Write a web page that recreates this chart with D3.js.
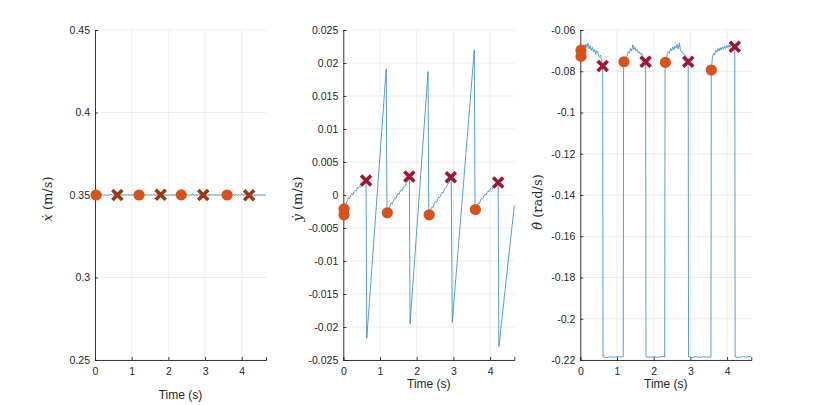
<!DOCTYPE html>
<html><head><meta charset="utf-8">
<script src="https://cdn.jsdelivr.net/npm/d3@7"></script>
<style>body{margin:0;background:#fff}svg{display:block}</style>
</head><body><svg id="c" width="830" height="405"></svg>
<script>
// ---------- DATA ----------
const xTicks = [0, 1, 2, 3, 4];
const xdotTicks = [0.25, 0.3, 0.35, 0.4, 0.45];
const ydotTicks = [-0.025,-0.02,-0.015,-0.01,-0.005,0,0.005,0.01,0.015,0.02,0.025];
const thdotTicks = [-0.22,-0.2,-0.18,-0.16,-0.14,-0.12,-0.1,-0.08,-0.06];

// x-dot line [t, value]
const xdotLine = [
 [0.00,0.3500],[0.04,0.3502],[0.08,0.3497],[0.12,0.3504],[0.16,0.3499],[0.20,0.3505],[0.24,0.3498],
 [0.28,0.3503],[0.32,0.3496],[0.36,0.3502],[0.40,0.3499],[0.44,0.3505],[0.48,0.3498],[0.52,0.3503],
 [0.56,0.3497],[0.61,0.3500],[1.20,0.3500],
 [1.24,0.3498],[1.28,0.3503],[1.32,0.3496],[1.36,0.3502],[1.40,0.3499],[1.44,0.3504],[1.48,0.3497],
 [1.52,0.3503],[1.56,0.3498],[1.60,0.3505],[1.64,0.3497],[1.68,0.3502],[1.72,0.3499],[1.79,0.3500],
 [2.35,0.3500],[2.39,0.3497],[2.43,0.3503],[2.47,0.3498],[2.51,0.3504],[2.55,0.3496],[2.59,0.3502],
 [2.63,0.3499],[2.67,0.3505],[2.71,0.3497],[2.75,0.3503],[2.79,0.3498],[2.83,0.3502],[2.88,0.3497],[2.95,0.3500],
 [3.60,0.3500],[3.64,0.3498],[3.68,0.3503],[3.72,0.3497],[3.76,0.3502],[3.80,0.3499],[3.84,0.3505],
 [3.88,0.3497],[3.92,0.3503],[3.96,0.3498],[4.00,0.3504],[4.04,0.3497],[4.08,0.3502],[4.14,0.3499],
 [4.20,0.3500],[4.66,0.3500]
];
const xdotStart = [[0.03,0.3500],[1.20,0.3500],[2.35,0.3501],[3.60,0.3500]];
const xdotEnd = [[0.61,0.3500],[1.79,0.3501],[2.95,0.3500],[4.20,0.3499]];

// y-dot line
const ydotLine = [
 [0.00,-0.0030],[0.02,-0.0021],[0.05,-0.0016],[0.08,-0.0012],[0.11,-0.0009],[0.14,-0.0004],[0.17,-0.0006],
 [0.20,-0.0001],[0.23,0.0002],[0.26,0.0000],[0.29,0.0005],[0.32,0.0007],[0.35,0.0006],[0.38,0.0011],
 [0.41,0.0010],[0.44,0.0013],[0.47,0.0012],[0.50,0.0016],[0.53,0.0018],[0.56,0.0017],[0.59,0.0020],
 [0.62,0.0022],[0.64,-0.0217],[1.17,0.0191],[1.19,-0.0027],
 [1.22,-0.0022],[1.25,-0.0019],[1.28,-0.0016],[1.31,-0.0012],[1.34,-0.0013],[1.37,-0.0008],[1.40,-0.0005],
 [1.43,-0.0006],[1.46,-0.0001],[1.49,0.0002],[1.52,0.0001],[1.55,0.0006],[1.58,0.0008],[1.61,0.0007],
 [1.64,0.0012],[1.67,0.0014],[1.70,0.0015],[1.73,0.0019],[1.76,0.0021],[1.80,0.0028],[1.82,-0.0195],
 [2.31,0.0187],[2.33,-0.0030],
 [2.36,-0.0025],[2.39,-0.0021],[2.42,-0.0018],[2.45,-0.0019],[2.48,-0.0013],[2.51,-0.0010],[2.54,-0.0011],
 [2.57,-0.0006],[2.60,-0.0003],[2.63,-0.0004],[2.66,0.0001],[2.69,0.0004],[2.72,0.0003],[2.75,0.0008],
 [2.78,0.0011],[2.81,0.0012],[2.84,0.0016],[2.87,0.0019],[2.90,0.0021],[2.94,0.0027],[2.97,-0.0193],
 [3.57,0.0220],[3.59,-0.0022],
 [3.62,-0.0018],[3.65,-0.0015],[3.68,-0.0012],[3.71,-0.0013],[3.74,-0.0008],[3.77,-0.0005],[3.80,-0.0006],
 [3.83,-0.0002],[3.86,0.0001],[3.89,0.0000],[3.92,0.0004],[3.95,0.0006],[3.98,0.0005],[4.01,0.0009],
 [4.04,0.0011],[4.07,0.0010],[4.10,0.0013],[4.13,0.0015],[4.16,0.0016],[4.22,0.0019],[4.24,-0.0230],
 [4.66,-0.0016]
];
const ydotStart = [[0.02,-0.0021],[0.02,-0.0030],[1.20,-0.0027],[2.34,-0.0030],[3.60,-0.0022]];
const ydotEnd = [[0.62,0.0022],[1.80,0.0028],[2.93,0.0027],[4.22,0.0019]];

// theta-dot line
const thdotLine = [
 [0.00,-0.0728],[0.02,-0.0700],[0.05,-0.0688],[0.08,-0.0702],[0.10,-0.0672],[0.13,-0.0690],[0.15,-0.0668],
 [0.18,-0.0685],[0.21,-0.0664],[0.24,-0.0692],[0.27,-0.0676],[0.30,-0.0698],[0.33,-0.0684],[0.36,-0.0706],
 [0.39,-0.0694],[0.42,-0.0718],[0.45,-0.0700],[0.48,-0.0712],[0.51,-0.0730],[0.55,-0.0722],[0.58,-0.0745],
 [0.61,-0.0775],[0.62,-0.2185],[0.72,-0.2188],[0.82,-0.2184],[0.92,-0.2187],[1.02,-0.2183],[1.10,-0.2186],
 [1.17,-0.2184],[1.18,-0.0760],
 [1.22,-0.0748],[1.25,-0.0730],[1.28,-0.0722],[1.31,-0.0705],[1.34,-0.0712],[1.37,-0.0690],[1.40,-0.0702],
 [1.43,-0.0672],[1.46,-0.0695],[1.49,-0.0684],[1.52,-0.0700],[1.55,-0.0694],[1.58,-0.0710],[1.61,-0.0705],
 [1.64,-0.0718],[1.67,-0.0712],[1.70,-0.0728],[1.74,-0.0735],[1.78,-0.0754],[1.79,-0.2185],[1.90,-0.2187],
 [2.00,-0.2184],[2.10,-0.2187],[2.20,-0.2183],[2.30,-0.2186],[2.31,-0.0760],
 [2.34,-0.0742],[2.37,-0.0718],[2.40,-0.0705],[2.43,-0.0712],[2.46,-0.0690],[2.49,-0.0700],[2.52,-0.0682],
 [2.55,-0.0696],[2.58,-0.0678],[2.61,-0.0688],[2.64,-0.0670],[2.67,-0.0692],[2.70,-0.0664],[2.73,-0.0698],
 [2.76,-0.0704],[2.79,-0.0712],[2.82,-0.0718],[2.86,-0.0726],[2.90,-0.0735],[2.94,-0.0754],[2.95,-0.2185],
 [3.05,-0.2188],[3.15,-0.2184],[3.25,-0.2187],[3.35,-0.2184],[3.45,-0.2186],[3.56,-0.2185],[3.57,-0.0792],
 [3.60,-0.0735],[3.63,-0.0712],[3.66,-0.0720],[3.69,-0.0698],[3.72,-0.0708],[3.75,-0.0690],[3.78,-0.0702],
 [3.81,-0.0686],[3.84,-0.0697],[3.87,-0.0682],[3.90,-0.0694],[3.93,-0.0678],[3.96,-0.0690],[3.99,-0.0675],
 [4.02,-0.0686],[4.05,-0.0672],[4.08,-0.0684],[4.11,-0.0670],[4.14,-0.0678],[4.18,-0.0672],[4.21,-0.0681],
 [4.22,-0.2185],[4.32,-0.2187],[4.42,-0.2184],[4.52,-0.2186],[4.60,-0.2183],[4.66,-0.2185]
];
const thdotStart = [[0.02,-0.0698],[0.02,-0.0728],[1.19,-0.0754],[2.32,-0.0757],[3.57,-0.0794]];
const thdotEnd = [[0.61,-0.0775],[1.78,-0.0754],[2.94,-0.0754],[4.21,-0.0681]];

// ---------- DRAW ----------
const svg = d3.select('#c');
const plotTop = 30, plotBottom = 360;
const panels = [
 {left:95, line:xdotLine, s:xdotStart, e:xdotEnd, ticks:xdotTicks, dom:[0.25,0.45], crossColor:'#9a3a0b', lab:['ẋ',' (m/s)'], labX:52, labY:199, timeY:399},
 {left:343.3, line:ydotLine, s:ydotStart, e:ydotEnd, ticks:ydotTicks, dom:[-0.025,0.025], crossColor:'#a2142f', lab:['ẏ',' (m/s)'], labX:302, labY:199, timeY:388},
 {left:580.3, line:thdotLine, s:thdotStart, e:thdotEnd, ticks:thdotTicks, dom:[-0.22,-0.06], crossColor:'#a2142f', lab:['θ̇',' (rad/s)'], labX:542, labY:202, timeY:388}
];
const W = 171;

panels.forEach(p => {
  const x = d3.scaleLinear().domain([0,4.66]).range([p.left, p.left+W]);
  const y = d3.scaleLinear().domain(p.dom).range([plotBottom, plotTop]);
  const g = svg.append('g');
  // grid
  g.selectAll('.gx').data(xTicks).enter().append('line')
   .attr('x1',d=>x(d)).attr('x2',d=>x(d)).attr('y1',plotTop).attr('y2',plotBottom)
   .attr('stroke','#e8e8e8').attr('stroke-width',0.8);
  g.selectAll('.gy').data(p.ticks).enter().append('line')
   .attr('x1',p.left).attr('x2',p.left+W).attr('y1',d=>y(d)).attr('y2',d=>y(d))
   .attr('stroke','#e8e8e8').attr('stroke-width',0.8);
  // axes
  const ax = g.append('g').attr('transform',`translate(0,${plotBottom})`)
    .call(d3.axisBottom(x).tickValues(xTicks).tickSize(-3).tickPadding(8).tickFormat(d3.format('d')));
  const ay = g.append('g').attr('transform',`translate(${p.left},0)`)
    .call(d3.axisLeft(y).tickValues(p.ticks).tickSize(-3).tickPadding(5).tickFormat(d=>String(+d.toFixed(4))));
  [ax,ay].forEach(a=>{
    a.select('.domain').attr('stroke','#262626').attr('stroke-width',0.9);
    a.selectAll('.tick line').attr('stroke','#262626').attr('stroke-width',0.9);
    a.selectAll('text').attr('fill','#262626').style('font-family','"Liberation Sans", Arial, sans-serif').style('font-size','10.5px');
  });
  // line
  g.append('path').datum(p.line)
   .attr('d', d3.line().x(d=>x(d[0])).y(d=>y(d[1])))
   .attr('fill','none').attr('stroke','#2b85cc').attr('stroke-width',0.8);
  // circles
  g.selectAll('.c').data(p.s).enter().append('circle')
   .attr('cx',d=>x(d[0])).attr('cy',d=>y(d[1])).attr('r',5.6).attr('fill','#d95319');
  // crosses
  const cs = 5;
  g.selectAll('.x').data(p.e).enter().append('path')
   .attr('d',d=>{const cx=x(d[0]), cy=y(d[1]); return `M${cx-cs},${cy-cs}L${cx+cs},${cy+cs}M${cx-cs},${cy+cs}L${cx+cs},${cy-cs}`;})
   .attr('stroke',p.crossColor).attr('stroke-width',3.6).attr('fill','none');
  // x label
  g.append('text').attr('x',p.left+W/2).attr('y',p.timeY).attr('text-anchor','middle')
   .attr('fill','#262626').style('font-family','"Liberation Sans", Arial, sans-serif').style('font-size','12px').text('Time (s)');
  // y label
  const t = g.append('text').attr('transform',`translate(${p.labX},${p.labY}) rotate(-90)`).attr('text-anchor','middle')
   .attr('fill','#262626').style('font-family','"DejaVu Serif", serif').style('font-size','13px');
  t.append('tspan').style('font-style','italic').text(p.lab[0]);
  t.append('tspan').text(p.lab[1]);
});
</script></body></html>
